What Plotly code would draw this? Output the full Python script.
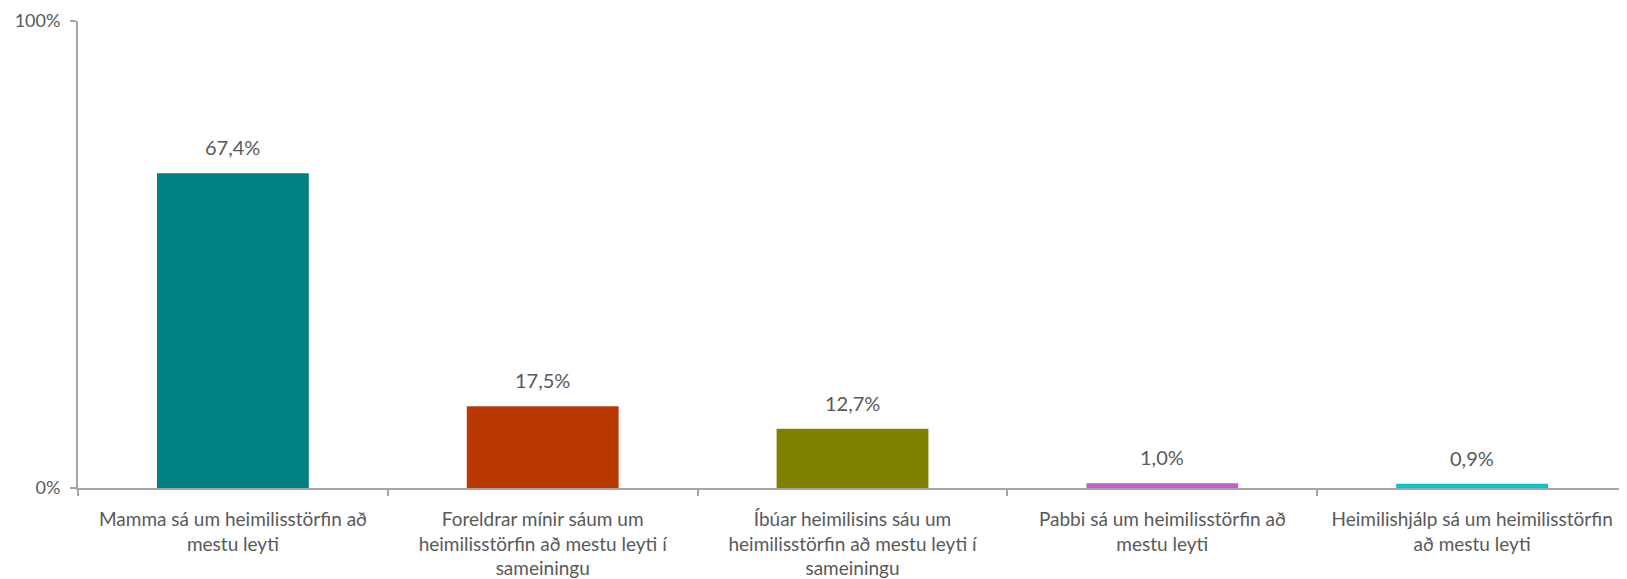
import plotly.graph_objects as go

categories = [
    "Mamma sá um heimilisstörfin að<br>mestu leyti",
    "Foreldrar mínir sáum um<br>heimilisstörfin að mestu leyti í<br>sameiningu",
    "Íbúar heimilisins sáu um<br>heimilisstörfin að mestu leyti í<br>sameiningu",
    "Pabbi sá um heimilisstörfin að<br>mestu leyti",
    "Heimilishjálp sá um heimilisstörfin<br>að mestu leyti",
]
values = [0.674, 0.175, 0.127, 0.010, 0.009]
colors = ["#008080", "#B83800", "#808000", "#C060C8", "#00C8C8"]

FONT = "Lato, 'Open Sans', sans-serif"
TXT = "#595959"

fig = go.Figure(go.Bar(
    x=categories, y=values, marker=dict(color=colors, line=dict(width=0)),
    width=0.49, hoverinfo="skip",
))

for c, v in zip(categories, values):
    fig.add_annotation(x=c, y=v, text=f"{v*100:.1f}%".replace(".", ","),
                       showarrow=False, yanchor="bottom", yshift=12,
                       font=dict(family=FONT, size=20, color=TXT))

fig.update_layout(
    width=1627, height=579,
    margin=dict(l=70, r=8, t=13, b=99),
    paper_bgcolor="white", plot_bgcolor="white",
    separators=",.",
    showlegend=False,
    font=dict(family=FONT, size=19, color=TXT),
)
fig.update_yaxes(range=[0, 1], tickvals=[0, 1], tickformat=".0%",
                 showgrid=False, zeroline=False, showline=True,
                 linecolor="#A6A6A6", linewidth=2, ticks="outside",
                 ticklen=6, tickcolor="#A6A6A6", tickwidth=2, automargin=False,
                 ticklabelstandoff=6,
                 tickfont=dict(family=FONT, size=18, color=TXT))
fig.update_xaxes(showgrid=False, showline=True, linecolor="#A6A6A6",
                 linewidth=2, ticks="outside", tickson="boundaries",
                 ticklen=6, tickcolor="#A6A6A6", tickwidth=2, automargin=False,
                 ticklabelstandoff=13,
                 tickfont=dict(family=FONT, size=19, color=TXT))

fig.write_html("out.html")
